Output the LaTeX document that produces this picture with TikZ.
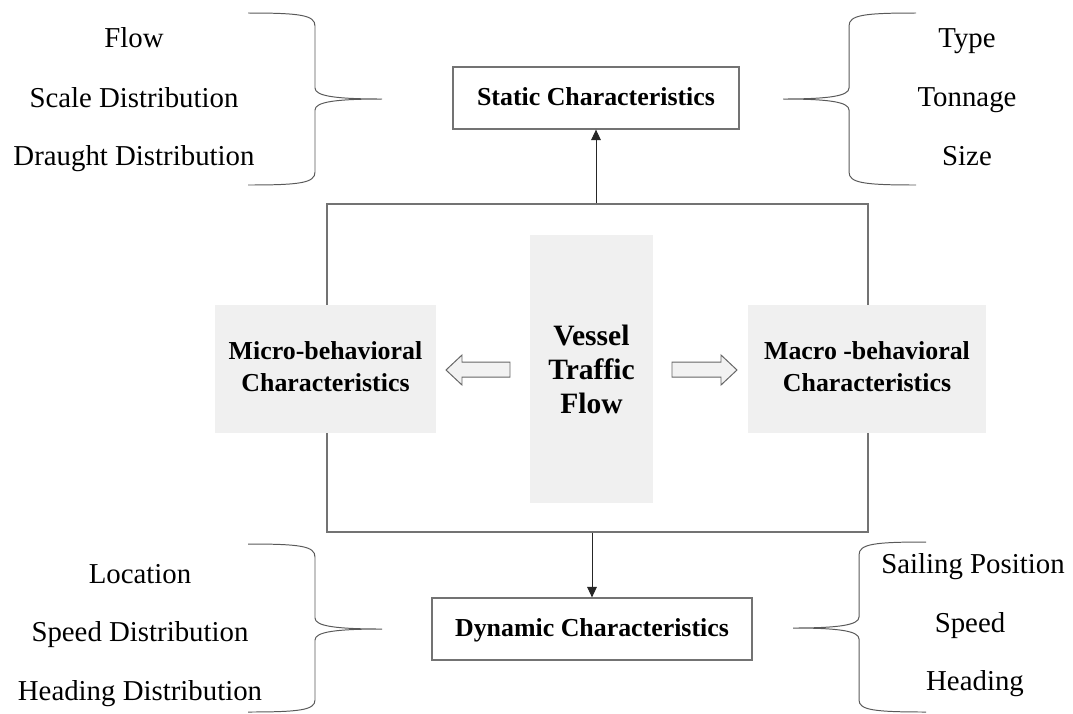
\documentclass[tikz,border=0pt]{standalone}
\usepackage{fontspec}
\setmainfont{Liberation Serif}
\usetikzlibrary{positioning, arrows.meta, calc}

\begin{document}
\begin{tikzpicture}[
    x=0.025cm, y=-0.025cm,
    item/.style={font=\fontsize{20.5}{24}\selectfont, anchor=base, inner sep=0pt},
    charbox/.style={rectangle, draw=black!55, line width=0.9pt, minimum height=1.55cm,
                    text height=1.05em, text depth=0pt,
                    font=\bfseries\fontsize{18.4}{22.8}\selectfont},
    graybox/.style={rectangle, fill=black!6, align=center, inner sep=0pt,
                    font=\bfseries\fontsize{18.4}{22.8}\selectfont},
    frame/.style={rectangle, draw=black!55, line width=0.9pt},
    arrow/.style={-{Triangle[length=2.6mm, width=2.4mm]}, line width=0.7pt, black!85},
    hollow/.style={draw=black!60, fill=black!5, line width=0.7pt, line join=miter},
    bracket/.style={draw=black!65, line width=0.7pt}
]
    \useasboundingbox (0,0) rectangle (1073,713);

    % Outer frame
    \node[frame, minimum width=13.525cm, minimum height=8.2cm] (frame) at (597.5,368) {};

    % Central blocks
    \node[graybox, minimum width=3.075cm, minimum height=6.7cm,
          font=\bfseries\fontsize{21}{24.2}\selectfont] (vessel) at (591.5,369) {Vessel\\Traffic\\Flow};
    \node[graybox, minimum width=5.525cm, minimum height=3.2cm, text depth=0.4em] (micro) at (325.5,369) {Micro-behavioral\\Characteristics};
    \node[graybox, minimum width=5.95cm, minimum height=3.2cm, text depth=0.4em] (macro) at (867,369) {Macro -behavioral\\Characteristics};

    % Hollow arrows
    \draw[hollow] (510,362) -- (462,362) -- (462,355) -- (446,370) -- (462,385) -- (462,377) -- (510,377) -- cycle;
    \draw[hollow] (672,362) -- (721,362) -- (721,355) -- (737,370) -- (721,385) -- (721,377) -- (672,377) -- cycle;

    % Static / dynamic
    \node[charbox, minimum width=7.15cm] (static) at (596,98) {Static Characteristics};
    \node[charbox, minimum width=8cm] (dynamic) at (592,629) {Dynamic Characteristics};

    \draw[arrow] (static.south |- frame.north) -- (static.south);
    \draw[arrow] (dynamic.north |- frame.south) -- (dynamic.north);

    % Braces
    \draw[bracket] (248,13) .. controls (300,13) and (315,15) .. (315,26) -- (315,88)
        .. controls (315,96) and (335,99) .. (382,99)
        .. controls (335,99) and (315,102) .. (315,110) -- (315,172)
        .. controls (315,183) and (300,185) .. (248,185);
    \draw[bracket] (916,13) .. controls (864,13) and (849,15) .. (849,26) -- (849,88)
        .. controls (849,96) and (829,99) .. (783,99)
        .. controls (829,99) and (849,102) .. (849,110) -- (849,172)
        .. controls (849,183) and (864,185) .. (916,185);
    \draw[bracket] (248,544) .. controls (300,544) and (315,546) .. (315,557) -- (315,618)
        .. controls (315,626) and (335,629) .. (382,629)
        .. controls (335,629) and (315,632) .. (315,640) -- (315,700)
        .. controls (315,710) and (300,712) .. (248,712);
    \draw[bracket] (926,542) .. controls (874,542) and (859,544) .. (859,555) -- (859,617)
        .. controls (859,625) and (839,628) .. (793,628)
        .. controls (839,628) and (859,631) .. (859,639) -- (859,700)
        .. controls (859,710) and (874,712) .. (926,712);

    % Static items
    \node[item] (flow) at (134,47) {Flow};
    \node[item] (scale) at (134,107) {Scale Distribution};
    \node[item] (draught) at (134,165) {Draught Distribution};
    \node[item] (type) at (967,47) {Type};
    \node[item] (tonnage) at (967,106) {Tonnage};
    \node[item] (size) at (967,165) {Size};

    % Dynamic items
    \node[item] (location) at (140,583) {Location};
    \node[item] (speeddist) at (140,641) {Speed Distribution};
    \node[item] (headingdist) at (140,700) {Heading Distribution};
    \node[item] (position) at (973,573) {Sailing Position};
    \node[item] (speed) at (970,632) {Speed};
    \node[item] (heading) at (975,690) {Heading};

\end{tikzpicture}
\end{document}
